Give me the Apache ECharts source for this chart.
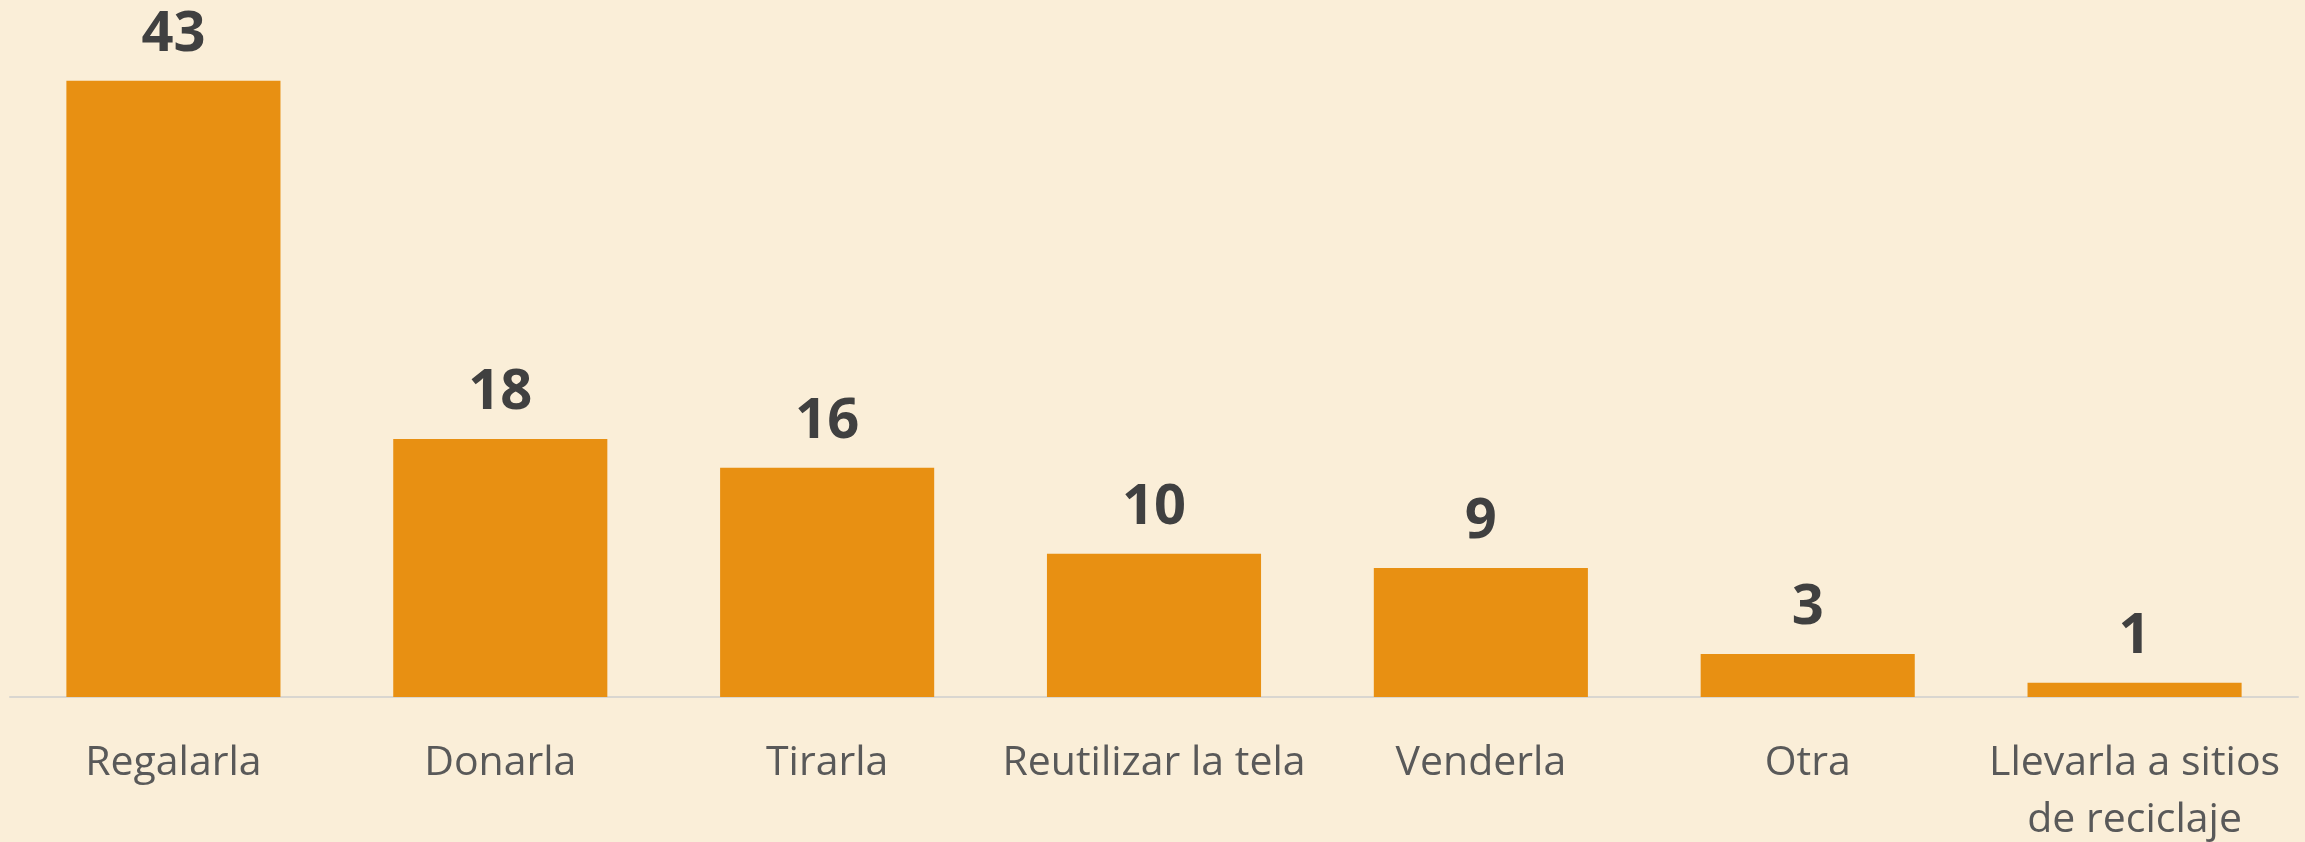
<!DOCTYPE html>
<html>
<head>
<meta charset="utf-8">
<title>Qué hacer con la ropa</title>
<script src="https://cdn.jsdelivr.net/npm/echarts@6/dist/echarts.min.js"></script>
<style>
  html, body { margin: 0; padding: 0; background: #faeed8; }
  #chart { width: 2305px; height: 842px; }
</style>
</head>
<body>
<div id="chart"></div>
<script>
// categories and values
const categories = ['Regalarla', 'Donarla', 'Tirarla', 'Reutilizar la tela', 'Venderla', 'Otra', 'Llevarla a sitios\nde reciclaje']
const counts = [43, 18, 16, 10, 9, 3, 1]

const chart = echarts.init(document.getElementById('chart'))

chart.setOption({
  backgroundColor: '#faeed8',
  animation: false,
  grid: {
    left: 10,
    right: 7,
    top: 52,
    bottom: 145,
    outerBoundsMode: 'none'
  },
  xAxis: {
    type: 'category',
    data: categories,
    axisLine: {
      lineStyle: { color: '#d9d6d0', width: 2 }
    },
    axisTick: { show: false },
    axisLabel: {
      interval: 0,
      margin: 38,
      color: '#595959',
      fontFamily: 'Open Sans',
      fontSize: 41,
      lineHeight: 57
    }
  },
  yAxis: {
    type: 'value',
    min: 0,
    max: 45,
    show: false,
    splitLine: { show: false }
  },
  series: [{
    type: 'bar',
    data: counts,
    barWidth: '65.5%',
    itemStyle: { color: '#e89012' },
    label: {
      show: true,
      position: 'top',
      distance: 18,
      color: '#404040',
      fontFamily: 'Open Sans',
      fontWeight: 'bold',
      fontSize: 56
    }
  }]
})
</script>
</body>
</html>
